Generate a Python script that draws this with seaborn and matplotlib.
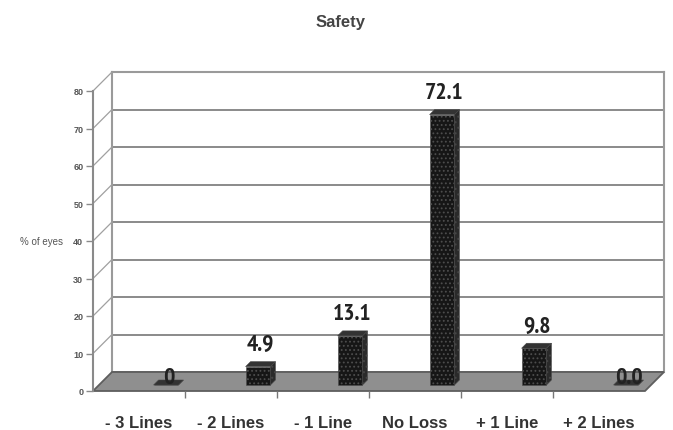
import numpy as np
import pandas as pd
import seaborn as sns
import matplotlib
matplotlib.use("Agg")
import matplotlib.pyplot as plt
from matplotlib import font_manager
from matplotlib.font_manager import FontProperties
from matplotlib.transforms import ScaledTranslation, IdentityTransform
from matplotlib.patches import Polygon
from matplotlib.lines import Line2D

# ---- data ----
categories = ["- 3 Lines", "- 2 Lines", "- 1 Line", "No Loss", "+ 1 Line", "+ 2 Lines"]
values = [0, 4.9, 13.1, 72.1, 9.8, 0.0]
value_labels = ["0", "4.9", "13.1", "72.1", "9.8", "0.0"]
y_ticks = [0, 10, 20, 30, 40, 50, 60, 70, 80]
title = "Safety"
y_label = "% of eyes"

sns.set_style("white")
plt.rcParams['font.family'] = ['Liberation Sans', 'DejaVu Sans']
plt.rcParams['hatch.linewidth'] = 0.8


def _wt(w):
    if isinstance(w, (int, float)):
        return w
    return font_manager.weight_dict.get(str(w), 400)


def pick_condensed():
    best = None
    for f in font_manager.fontManager.ttflist:
        nm = f.name
        if 'CJK' in nm or 'Mono' in nm or 'Serif' in nm:
            continue
        if f.style != 'normal' or _wt(f.weight) < 600 or _wt(f.weight) > 800:
            continue
        if 'Narrow' in nm:
            score = 0
        elif f.stretch == 'condensed' or ('Condensed' in nm and 'Semi' not in nm and 'Extra' not in nm):
            score = 1
        elif f.stretch == 'semi-condensed' or 'SemiCondensed' in nm:
            score = 2
        else:
            continue
        if best is None or score < best[0]:
            best = (score, f.fname)
    return best


cond = pick_condensed()
if cond is not None:
    val_fp = FontProperties(fname=cond[1], size=17)
else:
    val_fp = FontProperties(family=['Liberation Sans', 'DejaVu Sans'], weight='bold', size=14)

W, H = 673, 431
fig = plt.figure(figsize=(W / 100, H / 100), dpi=100)

# geometry (pixels)
FX0, FX1, FY0 = 93, 645, H - 392       # front plane
DEPTH = 19                              # wall depth offset
PLOT_H = 300

# back wall axes
axb = fig.add_axes([(FX0 + DEPTH) / W, (FY0 + DEPTH) / H, (FX1 - FX0) / W, PLOT_H / H])
axb.set_xlim(-0.5, len(categories) - 0.5)
axb.set_ylim(0, 80)
axb.set_yticks(y_ticks)
axb.set_xticks([])
axb.tick_params(left=False, labelleft=False, bottom=False, labelbottom=False)
axb.grid(axis='y', color='#8a8a8a', lw=1.4)
axb.set_facecolor('white')
for s in ['top', 'left', 'right']:
    axb.spines[s].set_color('#9a9a9a')
    axb.spines[s].set_linewidth(1.5)
axb.spines['bottom'].set_visible(False)
axb.set_zorder(0)

# front axes
ax = fig.add_axes([FX0 / W, FY0 / H, (FX1 - FX0) / W, PLOT_H / H])
ax.set_zorder(1)
ax.patch.set_alpha(0)
ax.set_xlim(-0.5, len(categories) - 0.5)
ax.set_ylim(0, 80)

df = pd.DataFrame({"cat": categories, "val": values})
sns.barplot(data=df, x="cat", y="val", order=categories, ax=ax, width=0.27,
            color='#161616', edgecolor='#4d4d4d', linewidth=0.4, saturation=1)
ax.set_xlim(-0.5, len(categories) - 0.5)
ax.set_ylim(0, 80)
ax.set_xlabel("")
ax.set_ylabel("")

ident = IdentityTransform()


def disp(x, y):
    return ax.transData.transform((x, y))


# floor
fl = disp(-0.5, 0)
fr = disp(len(categories) - 0.5, 0)
floor = Polygon([fl, fr, fr + DEPTH, fl + DEPTH], closed=True, transform=ident,
                facecolor='#8f8f8f', edgecolor='#5e5e5e', lw=1.3, zorder=0.5, clip_on=False)
ax.add_artist(floor)

# left wall diagonals
for t in y_ticks[1:]:
    p = disp(-0.5, t)
    ax.add_artist(Line2D([p[0], p[0] + DEPTH], [p[1], p[1] + DEPTH], transform=ident,
                         color='#a0a0a0', lw=0.9, clip_on=False, zorder=0.4))

# bars: shift into the depth and add 3D faces
BDX, BDY, BD = 27, 6, 5
off = ScaledTranslation(BDX / 100, BDY / 100, fig.dpi_scale_trans)
for i, p in enumerate(ax.patches[:len(values)]):
    p.set_transform(ax.transData + off)
    p.set_hatch('....')
    p.set_zorder(3)
    p.set_clip_on(False)
    x0, w, h = p.get_x(), p.get_width(), p.get_height()
    a = disp(x0, 0) + np.array([BDX, BDY])
    b = disp(x0 + w, h) + np.array([BDX, BDY])
    side = Polygon([(b[0], a[1]), (b[0] + BD, a[1] + BD), (b[0] + BD, b[1] + BD), (b[0], b[1])],
                   transform=ident, facecolor='#2a2a2a', edgecolor='#444', lw=0.4,
                   zorder=3, clip_on=False, hatch='...')
    top = Polygon([(a[0], b[1]), (a[0] + BD, b[1] + BD), (b[0] + BD, b[1] + BD), (b[0], b[1])],
                  transform=ident, facecolor='#333333', edgecolor='#444', lw=0.4,
                  zorder=3, clip_on=False)
    ax.add_artist(side)
    ax.add_artist(top)
    offs = 17 if values[i] > 0 else 2
    ax.text((a[0] + b[0]) / 2 + BD / 2, b[1] + BD + offs, value_labels[i], transform=ident,
            ha='center', va='center', fontproperties=val_fp, color='#222222', zorder=4)

# axes styling
for s in ['top', 'right', 'bottom']:
    ax.spines[s].set_visible(False)
ax.spines['left'].set_color('#8a8a8a')
ax.spines['left'].set_linewidth(1.5)
ax.set_yticks(y_ticks)
ax.set_yticklabels([str(t) for t in y_ticks])
ax.tick_params(axis='y', length=5, width=1, color='#8a8a8a', labelsize=6.5,
               labelcolor='#555555', pad=2, left=True)
for lab in ax.get_yticklabels():
    lab.set_fontweight('bold')
ax.set_xticks(range(len(categories)))
ax.set_xticklabels(categories)
ax.tick_params(axis='x', length=0, pad=17, labelsize=12, labelcolor='#333333')
for lab in ax.get_xticklabels():
    lab.set_fontweight('bold')
ax.set_xticks([i + 0.5 for i in range(len(categories) - 1)], minor=True)
ax.tick_params(axis='x', which='minor', length=5, width=1, color='#777777', bottom=True)

fig.text(341 / W, 1 - 22 / H, title, ha='center', va='center', fontsize=12,
         fontweight='bold', color='#444444')
fig.text(42 / W, 1 - 242 / H, y_label, ha='center', va='center', fontsize=7,
         color='#555555')

fig.savefig('out.png', dpi=100)
